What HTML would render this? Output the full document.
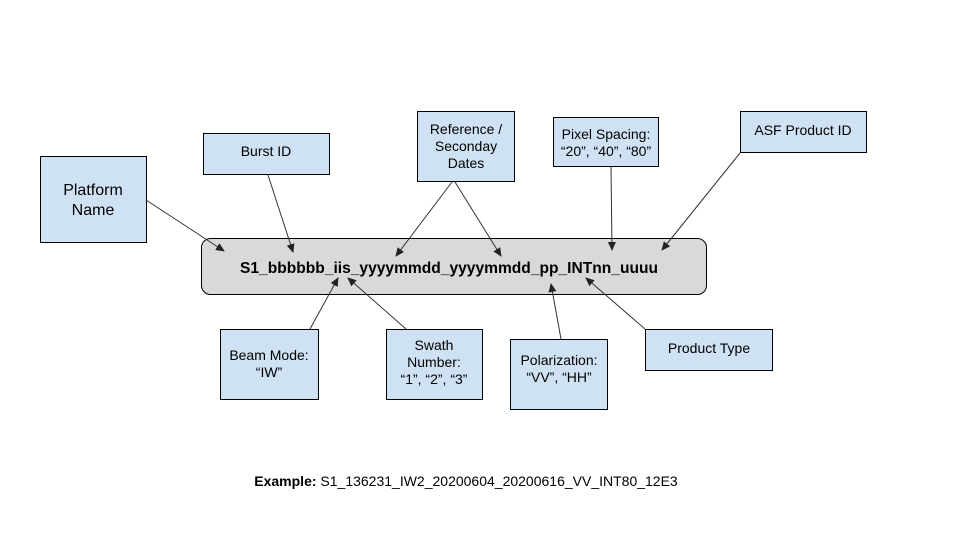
<!DOCTYPE html>
<html><head><meta charset="utf-8"><style>
html,body{margin:0;padding:0;background:#fff}
svg text{font-family:"Liberation Sans",Arial,sans-serif;fill:#000}
</style></head><body>
<svg width="965" height="553" viewBox="0 0 965 553" xmlns="http://www.w3.org/2000/svg">
<defs><marker id="a" markerWidth="10" markerHeight="10" refX="8" refY="4" orient="auto" markerUnits="userSpaceOnUse"><path d="M0,0 L9,4 L0,8 z" fill="#222"/></marker></defs>
<g fill="#cfe2f3" stroke="#000" stroke-width="1">
<rect x="40.5" y="156.5" width="106" height="86"/>
<rect x="203.5" y="133.5" width="126" height="41"/>
<rect x="417.5" y="111.5" width="97" height="70"/>
<rect x="553.5" y="117.5" width="105" height="49"/>
<rect x="740.5" y="111.5" width="126" height="41"/>
<rect x="220.5" y="329.5" width="98" height="70"/>
<rect x="386.5" y="329.5" width="96" height="70"/>
<rect x="510.5" y="339.5" width="97" height="70"/>
<rect x="645.5" y="329.5" width="127" height="41"/>
</g>
<rect x="201.5" y="238.5" width="505" height="56" rx="9" fill="#d9d9d9" stroke="#000"/>
<g font-size="14" text-anchor="middle">
<text x="93" y="195" font-size="16">Platform</text><text x="93" y="215" font-size="16">Name</text>
<text x="266" y="156">Burst ID</text>
<text x="466" y="134">Reference /</text><text x="466" y="151">Seconday</text><text x="466" y="168">Dates</text>
<text x="606" y="139">Pixel Spacing:</text><text x="606" y="156">“20”, “40”, “80”</text>
<text x="803" y="135">ASF Product ID</text>
<text x="269" y="360">Beam Mode:</text><text x="269" y="377">“IW”</text>
<text x="434" y="350">Swath</text><text x="434" y="367">Number:</text><text x="434" y="384">“1”, “2”, “3”</text>
<text x="559" y="365">Polarization:</text><text x="559" y="382">“VV”, “HH”</text>
<text x="709" y="353">Product Type</text>
</g>
<text x="240" y="273" font-size="16" font-weight="bold" textLength="418" lengthAdjust="spacingAndGlyphs">S1_bbbbbb_iis_yyyymmdd_yyyymmdd_pp_INTnn_uuuu</text>
<text x="466" y="486" font-size="14" text-anchor="middle"><tspan font-weight="bold">Example:</tspan> S1_136231_IW2_20200604_20200616_VV_INT80_12E3</text>
<g stroke="#333" stroke-width="1" marker-end="url(#a)" fill="none">
<line x1="146" y1="200" x2="224" y2="251"/>
<line x1="268" y1="175" x2="293" y2="252"/>
<line x1="452" y1="182" x2="396" y2="256"/>
<line x1="455" y1="182" x2="501" y2="256"/>
<line x1="611" y1="167" x2="612" y2="250"/>
<line x1="740" y1="153" x2="662" y2="250"/>
<line x1="310" y1="329" x2="338" y2="278"/>
<line x1="406" y1="329" x2="348" y2="278"/>
<line x1="561" y1="339" x2="551" y2="284"/>
<line x1="645" y1="329" x2="586" y2="278"/>
</g>
</svg>
</body></html>
